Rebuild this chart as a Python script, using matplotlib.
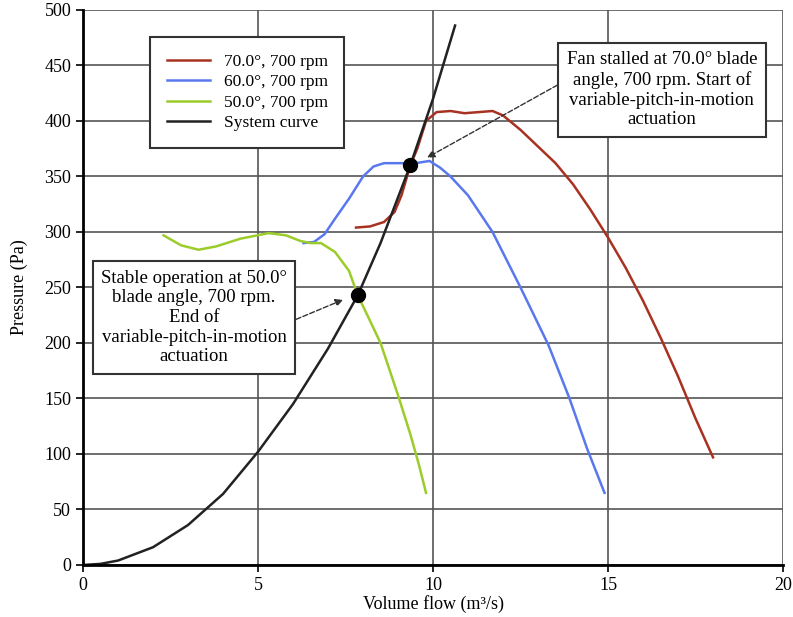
import matplotlib.pyplot as plt

plt.rcParams['font.family'] = ['Liberation Serif', 'DejaVu Serif']

# fan curves, flow in m3/s, pressure in Pa
red_q = [7.8, 8.2, 8.6, 8.9, 9.1, 9.35, 9.55, 9.8, 10.1, 10.5, 10.9, 11.3, 11.7, 12.0,
         12.5, 13.0, 13.5, 14.0, 14.5, 15.0, 15.5, 16.0, 16.5, 17.0, 17.5, 18.0]
red_p = [304, 305, 309, 318, 333, 360, 375, 400, 408, 409, 407, 408, 409, 405,
         392, 377, 362, 343, 320, 295, 268, 238, 205, 170, 132, 97]

blue_q = [6.3, 6.6, 6.9, 7.2, 7.6, 8.0, 8.3, 8.6, 9.0, 9.5, 9.9, 10.2, 10.5, 11.0,
          11.7, 12.5, 13.3, 13.9, 14.4, 14.9]
blue_p = [290, 291, 298, 312, 330, 350, 359, 362, 362, 362, 364, 358, 350, 333,
          300, 250, 198, 150, 105, 65]

green_q = [2.3, 2.8, 3.3, 3.8, 4.5, 5.3, 5.8, 6.2, 6.5, 6.8, 7.2, 7.6, 7.85, 8.2,
           8.5, 9.0, 9.35, 9.6, 9.8]
green_p = [297, 288, 284, 287, 294, 299, 297, 292, 290, 290, 282, 265, 243, 220,
           200, 153, 118, 90, 65]

sys_q = [0, 0.5, 1, 2, 3, 4, 5, 6, 7, 7.85, 8.5, 9.35, 10, 10.63]
sys_p = [0, 1, 4, 16, 36, 64, 102, 145, 195, 243, 290, 360, 420, 486]

# operating points
pts_q = [7.85, 9.35]
pts_p = [243, 360]

fig = plt.figure(figsize=(7.93, 6.17), dpi=100)
ax = fig.add_axes([0.1047, 0.0843, 0.8827, 0.8995])

ax.plot(red_q, red_p, color='#a83222', lw=1.8, label='70.0°, 700 rpm')
ax.plot(blue_q, blue_p, color='#5a78ee', lw=1.8, label='60.0°, 700 rpm')
ax.plot(green_q, green_p, color='#9ccc2a', lw=1.8, label='50.0°, 700 rpm')
ax.plot(sys_q, sys_p, color='#222222', lw=1.8, label='System curve')
ax.plot(pts_q, pts_p, 'o', color='black', ms=10, zorder=5)

ax.set_xlim(0, 20)
ax.set_ylim(0, 500)
ax.set_xticks([0, 5, 10, 15, 20])
ax.set_yticks(range(0, 501, 50))
ax.grid(True, color='#555555', lw=1.2)
ax.set_axisbelow(True)
for s in ['top', 'right']:
    ax.spines[s].set_visible(False)
for s in ['left', 'bottom']:
    ax.spines[s].set_linewidth(2)
ax.tick_params(direction='out', length=5, width=1.2, labelsize=13, colors='black')
ax.set_xlabel('Volume flow (m³/s)', fontsize=13, labelpad=1)
ax.set_ylabel('Pressure (Pa)', fontsize=13, labelpad=12)

leg = ax.legend(loc='upper left', bbox_to_anchor=(0.0957, 0.951), fontsize=12.5,
                frameon=True, fancybox=False, edgecolor='#333333', framealpha=1,
                handlelength=2.5, borderpad=0.95, handletextpad=0.8, labelspacing=0.25,
                borderaxespad=0)
leg.get_frame().set_linewidth(1.5)

box = dict(boxstyle='square,pad=0.45', fc='white', ec='#333333', lw=1.5)

ax.annotate('Fan stalled at 70.0° blade\nangle, 700 rpm. Start of\nvariable-pitch-in-motion\nactuation',
            xy=(9.83, 367), xytext=(16.54, 428), ha='center', va='center',
            fontsize=13.5, linespacing=1.2, bbox=box, zorder=6,
            arrowprops=dict(arrowstyle='-|>', ls='--', color='#333333', lw=1.0,
                            mutation_scale=11, relpos=(0, 0.63), shrinkA=0, shrinkB=0))
ax.annotate('Stable operation at 50.0°\nblade angle, 700 rpm.\nEnd of\nvariable-pitch-in-motion\nactuation',
            xy=(7.43, 239), xytext=(3.17, 223), ha='center', va='center',
            fontsize=13.5, linespacing=1.2, bbox=box, zorder=6,
            arrowprops=dict(arrowstyle='-|>', ls='--', color='#333333', lw=1.0,
                            mutation_scale=11, relpos=(1, 0.44), shrinkA=0, shrinkB=0))

plt.savefig('out.png', dpi=100)
plt.close()
